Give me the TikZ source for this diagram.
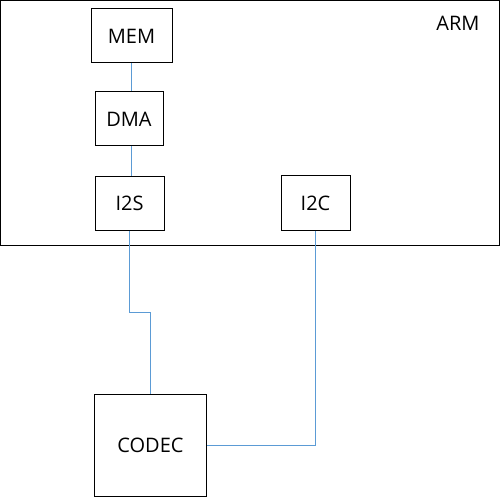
\documentclass[tikz,border=0pt]{standalone}
\usepackage{fontspec}
\setmainfont{Open Sans}
\begin{document}
\begin{tikzpicture}[x=1pt,y=-1pt,
  box/.style={draw=black,line width=1pt,fill=white,inner sep=0pt,font=\fontsize{20}{22}\selectfont},
  wire/.style={draw={rgb,255:red,91;green,155;blue,213},line width=1pt},
  lbl/.style={font=\fontsize{20}{22}\selectfont,inner sep=0pt}]
\useasboundingbox (0,0) rectangle (500,497);
\node[draw=black,line width=1pt,minimum width=498.5pt,minimum height=244.5pt,inner sep=0pt] (arm) at (249.75,122.75) {};
\node[lbl] (armlbl) at (458,23) {ARM};
\node[box,minimum width=81pt,minimum height=54pt] (mem) at (131.5,36) {MEM};
\node[box,minimum width=68pt,minimum height=54pt] (dma) at (129,119) {DMA};
\node[box,minimum width=69pt,minimum height=53pt] (i2s) at (129.5,203.5) {I2S};
\node[box,minimum width=69pt,minimum height=54pt] (i2c) at (315.5,203) {I2C};
\node[box,minimum width=112pt,minimum height=102pt] (codec) at (150.5,445.5) {CODEC};
\coordinate (jog) at (0,312.5);
\draw[wire] (mem.south) -- (mem.south |- dma.north);
\draw[wire] ([xshift=2.5pt]dma.south) -- ([xshift=2.5pt]dma.south |- i2s.north);
\draw[wire] (i2s.south) -- (i2s.south |- jog) -| (codec.north);
\draw[wire] (i2c.south) |- (codec.east);
\end{tikzpicture}
\end{document}
